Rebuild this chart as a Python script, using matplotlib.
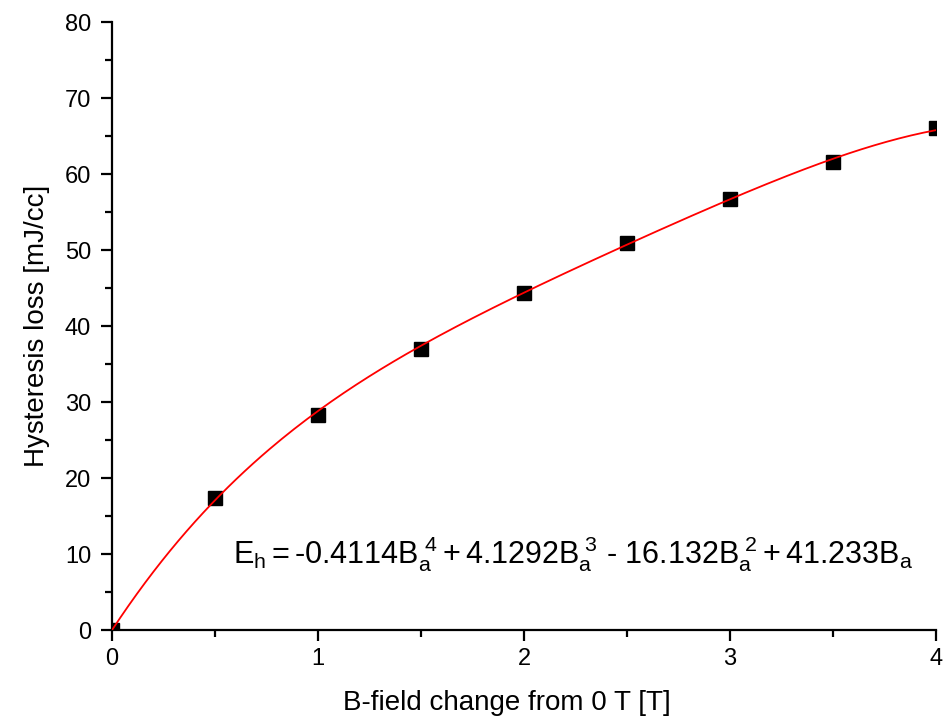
import numpy as np
import matplotlib.pyplot as plt
from matplotlib.ticker import MultipleLocator

# measured points (B-field change vs hysteresis loss)
b_field = [0.0, 0.5, 1.0, 1.5, 2.0, 2.5, 3.0, 3.5, 4.0]
loss = [0.0, 17.4, 28.3, 37.0, 44.4, 50.9, 56.7, 61.6, 66.1]

# fitted polynomial coefficients shown on the chart (B^4 .. B^0)
fit_coeffs = [-0.4114, 4.1292, -16.132, 41.233, 0.0]

plt.rcParams['font.family'] = ['Liberation Sans', 'DejaVu Sans']
plt.rcParams['mathtext.fontset'] = 'custom'
plt.rcParams['mathtext.rm'] = 'Liberation Sans'
plt.rcParams['mathtext.it'] = 'Liberation Sans'

fig = plt.figure(figsize=(9.51, 7.24), dpi=100)
ax = fig.add_axes([0.1178, 0.1298, 0.8664, 0.8398])

xs = np.linspace(0, 4, 200)
ax.plot(xs, np.polyval(fit_coeffs, xs), color='red', lw=1.3, zorder=3)
ax.plot(b_field, loss, 's', color='black', ms=10, zorder=2)

ax.set_xlim(0, 4)
ax.set_ylim(0, 80)
ax.xaxis.set_major_locator(MultipleLocator(1))
ax.xaxis.set_minor_locator(MultipleLocator(0.5))
ax.yaxis.set_major_locator(MultipleLocator(10))
ax.yaxis.set_minor_locator(MultipleLocator(5))
for s in ['top', 'right']:
    ax.spines[s].set_visible(False)
for s in ['left', 'bottom']:
    ax.spines[s].set_linewidth(1.6)
ax.tick_params(which='major', direction='out', length=8, width=1.6, labelsize=17)
ax.tick_params(axis='x', which='major', pad=5)
ax.tick_params(axis='y', which='major', pad=7)
ax.tick_params(which='minor', direction='out', length=5, width=1.6)

ax.set_xlabel('B-field change from 0 T [T]', fontsize=20)
ax.xaxis.set_label_coords(0.479, -0.099)
ax.set_ylabel('Hysteresis loss [mJ/cc]', fontsize=20)
ax.yaxis.set_label_coords(-0.075, 0.5)

eq = ('$\\mathregular{E_h = \u20100.4114B_a^{\\ 4} + 4.1292B_a^{\\ 3}\\ \u2010\\ '
      '16.132B_a^{\\ 2} + 41.233B_a}$')
ax.text(0.585, 8.8, eq, fontsize=22, ha='left', va='baseline')

fig.savefig('out.png', dpi=100)
